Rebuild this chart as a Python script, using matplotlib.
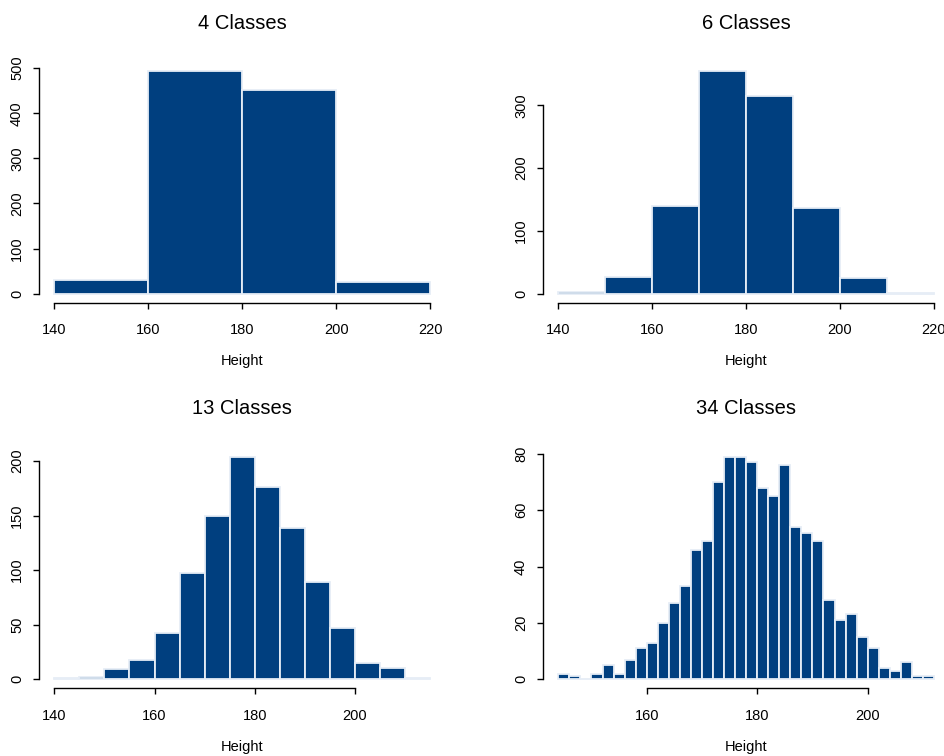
import matplotlib
matplotlib.use('Agg')
import matplotlib.pyplot as plt
import numpy as np

plt.rcParams['font.family'] = ['Liberation Sans', 'DejaVu Sans']

# bin edges and counts of the 1000 heights, one set per number of classes
edges_4 = [140, 160, 180, 200, 220]
counts_4 = [30, 493, 451, 26]

edges_6 = [140, 150, 160, 170, 180, 190, 200, 210, 220]
counts_6 = [3, 27, 139, 354, 315, 136, 25, 1]

edges_13 = list(range(140, 216, 5))
counts_13 = [1, 2, 9, 18, 42, 97, 150, 204, 176, 139, 89, 47, 15, 10, 1]

edges_34 = list(range(144, 213, 2))
counts_34 = [2, 1, 0, 2, 5, 2, 7, 11, 13, 20, 27, 33, 46, 49, 70, 79, 79,
             77, 68, 65, 76, 54, 52, 49, 28, 21, 23, 15, 11, 4, 3, 6, 1, 1]

titles = ['4 Classes', '6 Classes', '13 Classes', '34 Classes']
xticks = [[140, 160, 180, 200, 220], [140, 160, 180, 200, 220],
          [140, 160, 180, 200], [160, 180, 200]]
yticks = [[0, 100, 200, 300, 400, 500], [0, 100, 200, 300],
          [0, 50, 100, 150, 200], [0, 20, 40, 60, 80]]

W, H = 945, 756
fig = plt.figure(figsize=(W / 100, H / 100), dpi=100)

# plot regions in pixels: left, top, right, bottom
boxes = [(39.3, 62.4, 445.2, 302.6), (543.3, 62.4, 949.0, 302.6),
         (39.3, 447.8, 445.2, 688.2), (543.3, 447.8, 949.0, 688.2)]

fill = '#003f7f'
edge = '#e6edf6'

data = [(edges_4, counts_4), (edges_6, counts_6),
        (edges_13, counts_13), (edges_34, counts_34)]

for i, (edges, counts) in enumerate(data):
    l, t, r, b = boxes[i]
    ax = fig.add_axes([l / W, (H - b) / H, (r - l) / W, (b - t) / H])
    e = np.array(edges, dtype=float)
    c = np.array(counts, dtype=float)
    ax.bar(e[:-1], c, width=np.diff(e), align='edge', color=fill,
           edgecolor=edge, linewidth=1.3)
    # R-style 4% padding on both axes
    xr = e[-1] - e[0]
    ax.set_xlim(e[0] - 0.04 * xr, e[-1] + 0.04 * xr)
    ym = c.max()
    ax.set_ylim(-0.04 * ym, 1.04 * ym)

    for s in ['top', 'right']:
        ax.spines[s].set_visible(False)
    ax.spines['left'].set_bounds(yticks[i][0], yticks[i][-1])
    ax.spines['bottom'].set_bounds(xticks[i][0], xticks[i][-1])
    for s in ['left', 'bottom']:
        ax.spines[s].set_linewidth(1.0)
        ax.spines[s].set_color('black')

    ax.set_xticks(xticks[i])
    ax.set_yticks(yticks[i])
    ax.set_yticklabels([str(v) for v in yticks[i]], rotation=90, va='center')
    ax.tick_params(axis='x', direction='out', length=4, width=1.0, pad=11,
                   labelsize=10.5)
    ax.tick_params(axis='y', direction='out', length=4, width=1.0, pad=7,
                   labelsize=10.5)
    ax.set_xlabel('Height', fontsize=10.5, labelpad=12)
    ax.set_title(titles[i], fontsize=14.5, pad=24)

fig.savefig('out.png', dpi=100)
